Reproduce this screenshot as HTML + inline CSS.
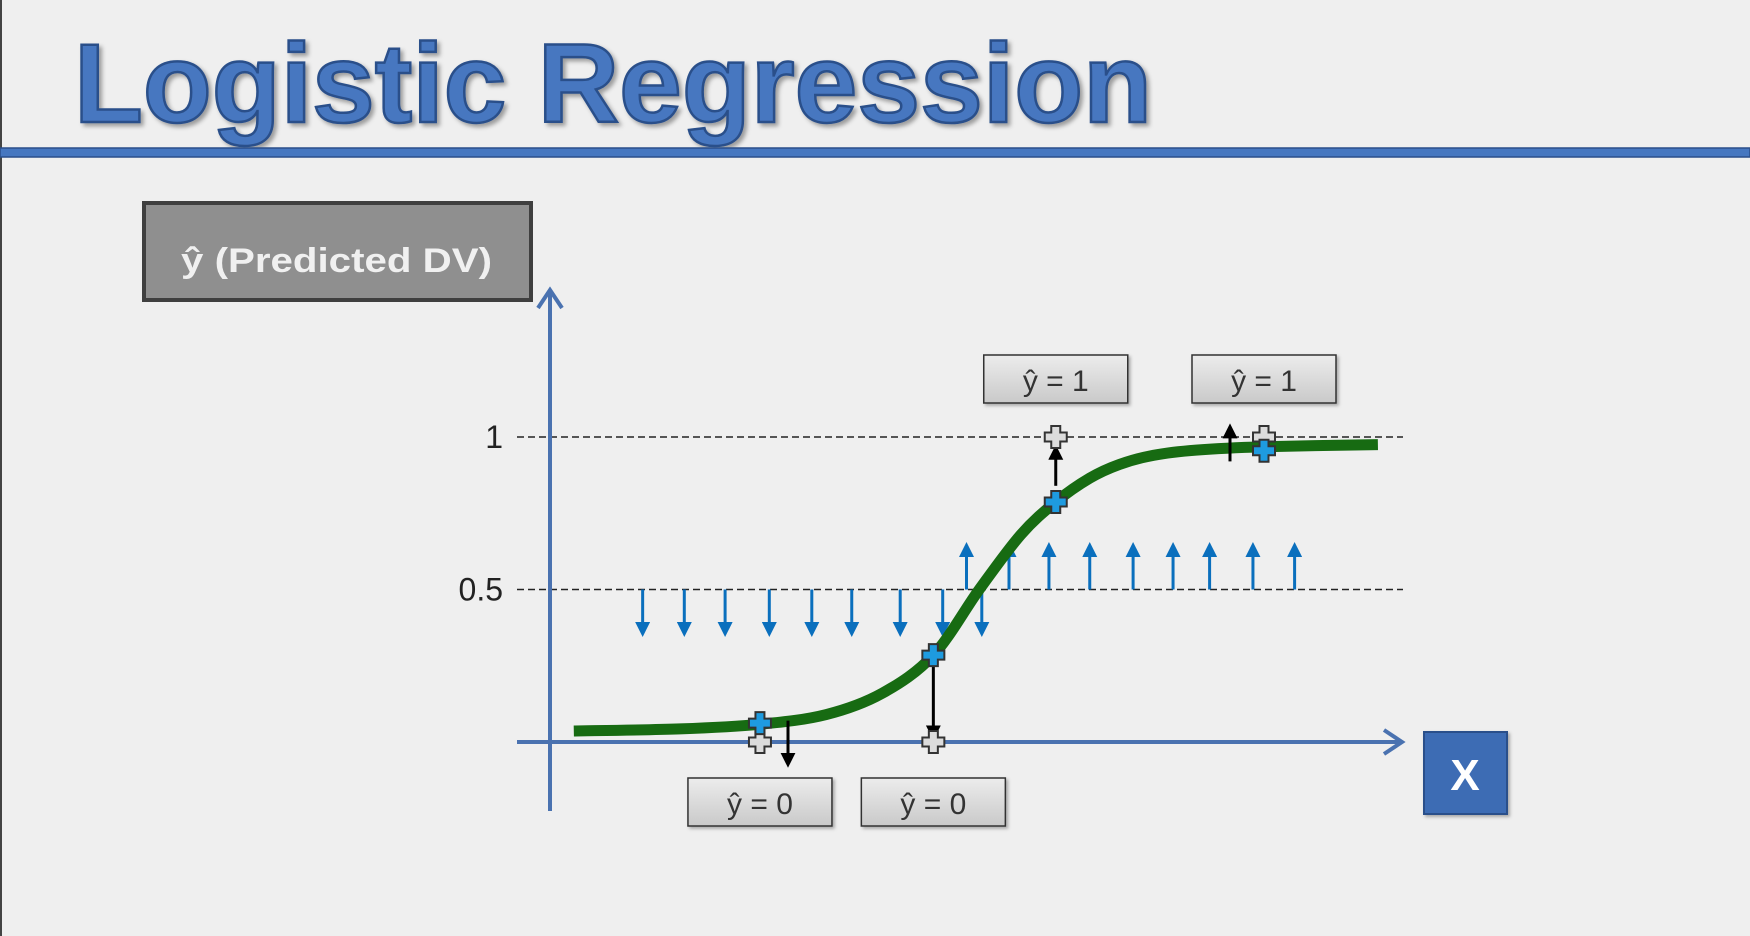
<!DOCTYPE html>
<html><head><meta charset="utf-8"><style>
html,body{margin:0;padding:0;background:#efefef;}
svg{display:block;font-family:"Liberation Sans",sans-serif;}
</style></head><body>
<svg width="1750" height="936" viewBox="0 0 1750 936">
<defs>
<filter id="sh" x="-10%" y="-10%" width="130%" height="140%"><feDropShadow dx="3" dy="3" stdDeviation="2" flood-color="#000" flood-opacity="0.35"/></filter>
<filter id="sh2" x="-10%" y="-10%" width="130%" height="140%"><feDropShadow dx="2" dy="2" stdDeviation="1.5" flood-color="#000" flood-opacity="0.3"/></filter>
<linearGradient id="lg" x1="0" y1="0" x2="0" y2="1"><stop offset="0" stop-color="#ececec"/><stop offset="1" stop-color="#c9c9c9"/></linearGradient>
<marker id="ab" viewBox="0 0 10 10" refX="5" refY="5" markerWidth="5" markerHeight="5" orient="auto"><path d="M0,0 L10,5 L0,10 z" fill="#0a6fbd"/></marker>
<marker id="ak" viewBox="0 0 10 10" refX="5" refY="5" markerWidth="5" markerHeight="5" orient="auto"><path d="M0,0 L10,5 L0,10 z" fill="#000"/></marker>
</defs>
<rect x="0" y="0" width="1750" height="936" fill="#efefef"/>
<line x1="1" y1="0" x2="1" y2="936" stroke="#444" stroke-width="2"/>
<text x="74" y="122" font-size="112" font-weight="bold" fill="#4677c0" stroke="#2a4f8a" stroke-width="2.5" textLength="1078" lengthAdjust="spacingAndGlyphs" filter="url(#sh)">Logistic Regression</text>
<rect x="0" y="148" width="1750" height="9" fill="#4677c0" stroke="#2a4f8a" stroke-width="1.5"/>
<g>
<rect x="144" y="203" width="387" height="97" fill="#8f8f8f" stroke="#3f3f3f" stroke-width="4"/>
<text x="181" y="272" font-size="34" font-weight="bold" fill="#f0f0f0" textLength="311" lengthAdjust="spacingAndGlyphs">ŷ (Predicted DV)</text>
</g>
<g>
<rect x="1424" y="732" width="83" height="82" fill="#3e6cb4" stroke="#2a4f8a" stroke-width="2" filter="url(#sh2)"/>
<text x="1465" y="790" font-size="44" font-weight="bold" fill="#fff" text-anchor="middle">X</text>
</g>
<g id="chart"></g>
</svg>
<script>
// curve data (x in data units, y = predicted probability)
const curveX = [0.28, 1.53, 2.47, 3.25, 3.91, 4.51, 5.05, 5.54, 5.95, 6.35, 6.7, 7.1, 7.6, 8.4, 9.74];
const curveY = [0.036, 0.043, 0.058, 0.09, 0.16, 0.285, 0.5, 0.68, 0.787, 0.865, 0.91, 0.94, 0.957, 0.968, 0.975];
// observations: x, predicted, actual
const obsX = [2.47, 4.51, 5.95, 8.4];
const obsPred = [0.062, 0.285, 0.787, 0.955];
const obsActual = [0, 0, 1, 1];
const arrowX = [2.8, 4.51, 5.95, 8.0];
const arrowFrom = [0.07, 0.25, 0.84, 0.92];
const arrowTo = [-0.06, 0.03, 0.95, 1.02];
const downArrowX = [1.09, 1.58, 2.06, 2.58, 3.08, 3.55, 4.12, 4.62, 5.08];
const upArrowX = [4.9, 5.4, 5.87, 6.35, 6.86, 7.33, 7.76, 8.27, 8.76];
const yTicks = [0.5, 1];
const yTickLabels = ["0.5", "1"];
const labelX = [2.47, 4.51, 5.95, 8.4];
const labelText = ["ŷ = 0", "ŷ = 0", "ŷ = 1", "ŷ = 1"];

const NS = "http://www.w3.org/2000/svg";
const g = document.getElementById('chart');
const xs = v => 550 + v * 85;
const ys = v => 742 - v * 305;
function mk(tag, attrs, parent) {
  const e = document.createElementNS(NS, tag);
  for (const k in attrs) e.setAttribute(k, attrs[k]);
  (parent || g).appendChild(e);
  return e;
}
yTicks.forEach((t, i) => {
  const l = mk('line', {x1: 517, x2: 1403, y1: ys(t), y2: ys(t), stroke: '#222', 'stroke-width': 1.6, 'stroke-dasharray': '7,4'});
  
  
  const tx = mk('text', {x: 503, y: ys(t) + 11, 'font-size': 32, fill: '#222', 'text-anchor': 'end'});
  tx.textContent = yTickLabels[i];
  
  
});
const yAx = mk('path', {d: 'M550,811 L550,292 M538,308 L550,290 L562,308', stroke: '#4a72b0', 'stroke-width': 4, fill: 'none'});


const xAx = mk('path', {d: 'M517,742 L1400,742 M1384,730 L1402,742 L1384,754', stroke: '#4a72b0', 'stroke-width': 4, fill: 'none'});


downArrowX.forEach(v => {
  const a = mk('line', {x1: xs(v), x2: xs(v), y1: ys(0.5), y2: ys(0.5) + 40, stroke: '#0a6fbd', 'stroke-width': 3, 'marker-end': 'url(#ab)'});
  
  
});
upArrowX.forEach(v => {
  const a = mk('line', {x1: xs(v), x2: xs(v), y1: ys(0.5), y2: ys(0.5) - 40, stroke: '#0a6fbd', 'stroke-width': 3, 'marker-end': 'url(#ab)'});
  
  
});
const pts = curveX.map((v, i) => [xs(v), ys(curveY[i])]);
let d = 'M' + pts[0][0] + ',' + pts[0][1];
for (let i = 0; i < pts.length - 1; i++) {
  const p0 = pts[i - 1] || pts[i], p1 = pts[i], p2 = pts[i + 1], p3 = pts[i + 2] || p2;
  const c1 = [p1[0] + (p2[0] - p0[0]) / 6, p1[1] + (p2[1] - p0[1]) / 6];
  const c2 = [p2[0] - (p3[0] - p1[0]) / 6, p2[1] - (p3[1] - p1[1]) / 6];
  d += ' C' + c1 + ' ' + c2 + ' ' + p2;
}
const curve = mk('path', {d: d, stroke: '#176b12', 'stroke-width': 11, fill: 'none', 'stroke-linecap': 'butt', 'stroke-linejoin': 'round'});


arrowX.forEach((v, i) => {
  const a = mk('line', {x1: xs(v), x2: xs(v), y1: ys(arrowFrom[i]), y2: ys(arrowTo[i]), stroke: '#000', 'stroke-width': 3, 'marker-end': 'url(#ak)'});
  
  
});
function plus(cx, cy, fill, name) {
  const s = 11, w = 4.5;
  const p = `M${cx-w},${cy-s} H${cx+w} V${cy-w} H${cx+s} V${cy+w} H${cx+w} V${cy+s} H${cx-w} V${cy+w} H${cx-s} V${cy-w} H${cx-w} Z`;
  const e = mk('path', {d: p, fill: fill, stroke: '#333', 'stroke-width': 2});
  
  
}
obsX.forEach((v, i) => {
  plus(xs(v), ys(obsActual[i]), '#dcdcdc', 'actual-point');
  plus(xs(v), ys(obsPred[i]), '#1e9be0', 'predicted-point');
});
labelX.forEach((v, i) => {
  const top = obsActual[i] === 1;
  const y = top ? 355 : 778;
  const r = mk('rect', {x: xs(v) - 72, y: y, width: 144, height: 48, fill: 'url(#lg)', stroke: '#333', 'stroke-width': 1.5, filter: 'url(#sh2)'});
  
  
  const t = mk('text', {x: xs(v), y: y + 36, 'font-size': 30, fill: '#333', 'text-anchor': 'middle'});
  t.textContent = labelText[i];
  
  
});
</script>
</body></html>
